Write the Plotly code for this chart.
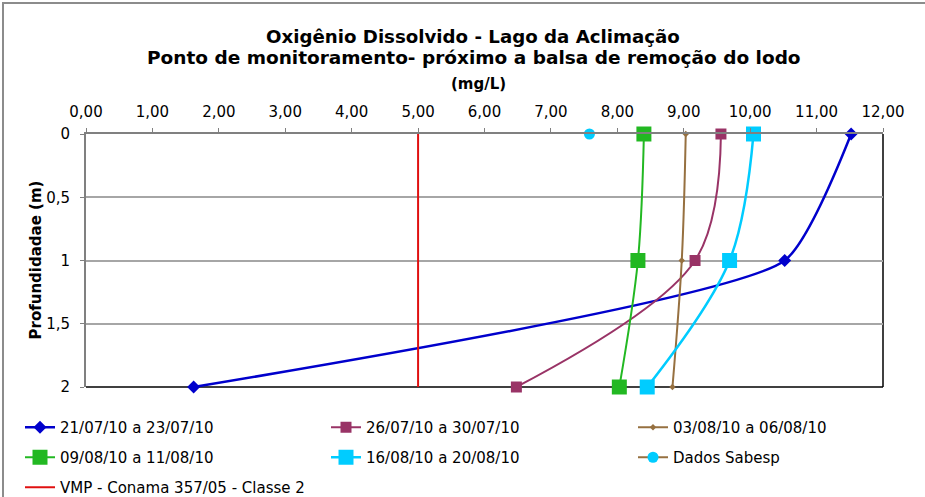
import plotly.graph_objects as go

# ---- data ----
depth = [0, 1, 2]
s1_name = "21/07/10 a 23/07/10"
s1_vals = [11.52, 10.52, 1.62]
s2_name = "26/07/10 a 30/07/10"
s2_vals = [9.56, 9.17, 6.48]
s3_name = "03/08/10 a 06/08/10"
s3_vals = [9.03, 8.97, 8.83]
s4_name = "09/08/10 a 11/08/10"
s4_vals = [8.40, 8.31, 8.03]
s5_name = "16/08/10 a 20/08/10"
s5_vals = [10.05, 9.69, 8.45]
sab_name = "Dados Sabesp"
sab_depth = [0]
sab_vals = [7.58]
vmp_name = "VMP - Conama 357/05 - Classe 2"
vmp_depth = [0, 2]
vmp_vals = [5, 5]

x_ticks = [0, 1, 2, 3, 4, 5, 6, 7, 8, 9, 10, 11, 12]
x_ticklabels = ["0,00", "1,00", "2,00", "3,00", "4,00", "5,00", "6,00",
                "7,00", "8,00", "9,00", "10,00", "11,00", "12,00"]
y_ticks = [0, 0.5, 1, 1.5, 2]
y_ticklabels = ["0", "0,5", "1", "1,5", "2"]

title1 = "Oxigênio Dissolvido - Lago da Aclimação"
title2 = "Ponto de monitoramento- próximo a balsa de remoção do lodo"
x_title = "(mg/L)"
y_title = "Profundidadae (m)"

FONT = "DejaVu Sans"

# ---- geometry (pixels) ----
W, H = 925, 497
L, R, T, B = 86, 883, 134, 387
pw, ph = R - L, B - T


def px(x):
    return (x - L) / pw


def py(y):
    return (B - y) / ph


fig = go.Figure()


def add(name, xs, ys, color, width, symbol, size, legend, smooth=1.0,
        mcolor=None):
    fig.add_trace(go.Scatter(
        x=xs, y=ys, name=name, mode="lines+markers",
        line=dict(color=color, width=width, shape="spline", smoothing=smooth),
        marker=dict(symbol=symbol, size=size, color=mcolor or color,
                    line=dict(width=0)),
        legend=legend, legendgroup=name, cliponaxis=False,
    ))


add(s1_name, s1_vals, depth, "#0000CC", 2.5, "diamond", 10, "legend", 0.5)
add(s2_name, s2_vals, depth, "#993366", 2, "square", 11, "legend2")
add(s3_name, s3_vals, depth, "#967040", 2, "diamond", 5, "legend3")
add(s4_name, s4_vals, depth, "#22B822", 2, "square", 15, "legend")
add(s5_name, s5_vals, depth, "#00CCFF", 2.5, "square", 15, "legend2")
add(sab_name, sab_vals, sab_depth, "#967040", 2, "circle", 11, "legend3",
    mcolor="#00CCFF")
fig.add_trace(go.Scatter(
    x=vmp_vals, y=vmp_depth, name=vmp_name, mode="lines",
    line=dict(color="#E01010", width=2), legend="legend",
    legendgroup=vmp_name, cliponaxis=False))

leg_common = dict(orientation="v", xanchor="left", yanchor="top",
                  y=py(411), tracegroupgap=7.5, traceorder="grouped",
                  font=dict(family=FONT, size=15, color="#000000"),
                  bgcolor="rgba(0,0,0,0)", itemclick=False)

fig.update_layout(
    width=W, height=H,
    margin=dict(l=L, r=W - R, t=T, b=H - B, pad=0, autoexpand=False),
    paper_bgcolor="white", plot_bgcolor="white",
    showlegend=True,
    legend=dict(x=px(20), **leg_common),
    legend2=dict(x=px(326), **leg_common),
    legend3=dict(x=px(633), **leg_common),
    xaxis=dict(
        range=[0, 12], side="top", tickvals=x_ticks, ticktext=x_ticklabels,
        showgrid=False, zeroline=False, showline=True, linecolor="#808080",
        linewidth=2, ticks="outside", ticklen=4, tickcolor="#808080",
        tickwidth=1, tickfont=dict(family=FONT, size=15, color="#000000"),
        ticklabelstandoff=5,
    ),
    yaxis=dict(
        range=[2, 0], tickvals=y_ticks, ticktext=y_ticklabels,
        showgrid=True, gridcolor="#A6A6A6", gridwidth=1.5,
        zeroline=False, showline=True, linecolor="#808080", linewidth=2,
        ticks="outside", ticklen=4, tickcolor="#808080", tickwidth=1,
        tickfont=dict(family=FONT, size=15, color="#000000"),
        ticklabelstandoff=7,
    ),
    shapes=[
        dict(type="rect", xref="paper", yref="paper",
             x0=px(3), x1=px(940), y0=py(510), y1=py(3),
             line=dict(color="#8C8C8C", width=2), fillcolor="rgba(0,0,0,0)",
             layer="below"),
        dict(type="line", xref="paper", yref="paper", x0=1, x1=1, y0=0, y1=1,
             line=dict(color="#000000", width=1.5), layer="below"),
        dict(type="line", xref="paper", yref="paper", x0=0, x1=1, y0=0, y1=0,
             line=dict(color="#000000", width=1.5), layer="below"),
    ],
    annotations=[
        dict(text="<b>%s</b>" % title1, x=px(473), y=py(36), xref="paper",
             yref="paper", showarrow=False, xanchor="center", yanchor="middle",
             font=dict(family=FONT, size=18.2, color="#000000")),
        dict(text="<b>%s</b>" % title2, x=px(474), y=py(57), xref="paper",
             yref="paper", showarrow=False, xanchor="center", yanchor="middle",
             font=dict(family=FONT, size=18.5, color="#000000")),
        dict(text="<b>%s</b>" % x_title, x=px(478), y=py(84), xref="paper",
             yref="paper", showarrow=False, xanchor="center", yanchor="middle",
             font=dict(family=FONT, size=15, color="#000000")),
        dict(text="<b>%s</b>" % y_title, x=px(35), y=0.5, xref="paper",
             yref="paper", showarrow=False, xanchor="center", yanchor="middle",
             textangle=-90, font=dict(family=FONT, size=15, color="#000000")),
    ],
)

fig.write_html("out.html",
               config={"displayModeBar": False},
               post_script="document.body.style.margin='0';")
